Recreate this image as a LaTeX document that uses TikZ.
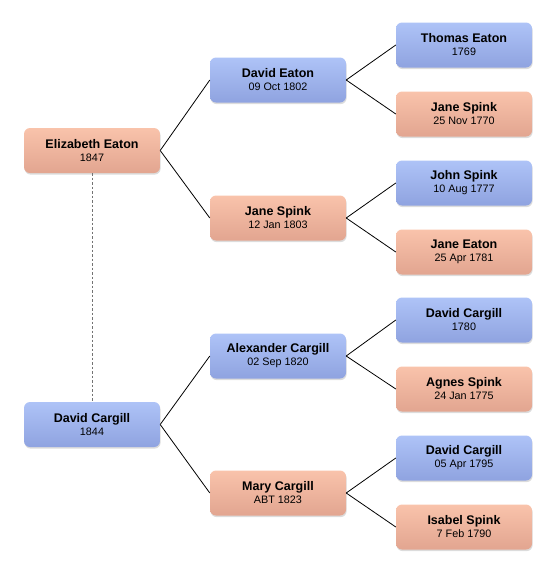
\documentclass[tikz,border=0pt]{standalone}
\usepackage{fontspec}
\setmainfont{Liberation Sans}
\usetikzlibrary{shadows}
\definecolor{btop}{HTML}{AEC3F7}
\definecolor{bbot}{HTML}{8FA3E0}
\definecolor{ptop}{HTML}{F9C3AB}
\definecolor{pbot}{HTML}{E2A590}
\tikzset{
  person/.style={rounded corners=6pt, minimum width=136pt, minimum height=45pt,
    inner sep=0pt, align=center, font=\fontsize{12.5}{14}\selectfont,
    drop shadow={shadow xshift=0.6pt, shadow yshift=-1.6pt, opacity=0.28}},
  male/.style={person, top color=btop, bottom color=bbot},
  female/.style={person, top color=ptop, bottom color=pbot},
  link/.style={draw=black, line width=0.8pt},
  spouse/.style={draw=gray!90!black, line width=1pt, dash pattern=on 2.5pt off 2pt}
}
\newcommand{\pname}[2]{\textbf{#1}\\[-1pt]{\fontsize{10.8}{12}\selectfont #2}}
\begin{document}
\begin{tikzpicture}[x=1pt,y=-1pt]
\useasboundingbox (0,0) rectangle (556,574);
\node[female] (ee) at (92,150.5) {\pname{Elizabeth Eaton}{1847}};
\node[male] (dc) at (92,424.5) {\pname{David Cargill}{1844}};
\node[male] (de) at (278,80) {\pname{David Eaton}{09 Oct 1802}};
\node[female] (js) at (278,218) {\pname{Jane Spink}{12 Jan 1803}};
\node[male] (ac) at (278,356) {\pname{Alexander Cargill}{02 Sep 1820}};
\node[female] (mc) at (278,493) {\pname{Mary Cargill}{ABT 1823}};
\node[male] (te) at (464,45) {\pname{Thomas Eaton}{1769}};
\node[female] (js2) at (464,114) {\pname{Jane Spink}{25 Nov 1770}};
\node[male] (jns) at (464,183) {\pname{John Spink}{10 Aug 1777}};
\node[female] (je) at (464,252) {\pname{Jane Eaton}{25 Apr 1781}};
\node[male] (dc2) at (464,320) {\pname{David Cargill}{1780}};
\node[female] (as) at (464,389) {\pname{Agnes Spink}{24 Jan 1775}};
\node[male] (dc3) at (464,458) {\pname{David Cargill}{05 Apr 1795}};
\node[female] (is) at (464,527) {\pname{Isabel Spink}{7 Feb 1790}};
\draw[spouse] (ee.south) -- (dc.north);
\draw[link] (ee.east) -- (de.west);
\draw[link] (ee.east) -- (js.west);
\draw[link] (dc.east) -- (ac.west);
\draw[link] (dc.east) -- (mc.west);
\draw[link] (de.east) -- (te.west);
\draw[link] (de.east) -- (js2.west);
\draw[link] (js.east) -- (jns.west);
\draw[link] (js.east) -- (je.west);
\draw[link] (ac.east) -- (dc2.west);
\draw[link] (ac.east) -- (as.west);
\draw[link] (mc.east) -- (dc3.west);
\draw[link] (mc.east) -- (is.west);
\end{tikzpicture}
\end{document}
